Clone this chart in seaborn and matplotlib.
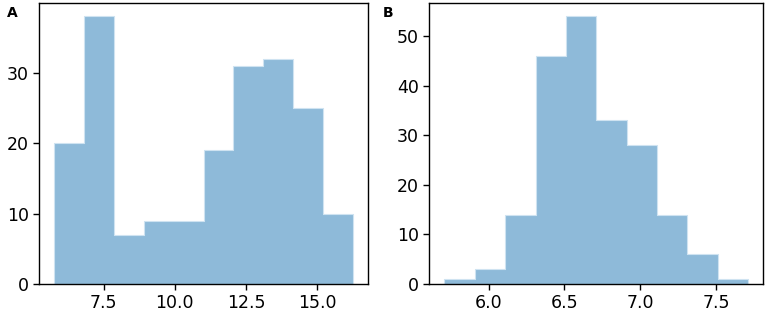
import numpy as np
import pandas as pd
import matplotlib
matplotlib.use("Agg")
import matplotlib.pyplot as plt
import seaborn as sns

# panel A: bin edges and counts
edges_a = [5.77, 6.82, 7.87, 8.92, 9.97, 11.02, 12.06, 13.11, 14.16, 15.21, 16.26]
counts_a = [20, 38, 7, 9, 9, 19, 31, 32, 25, 10]

# panel B
edges_b = [5.71, 5.91, 6.11, 6.31, 6.51, 6.71, 6.91, 7.11, 7.31, 7.51, 7.71]
counts_b = [1, 3, 14, 46, 54, 33, 28, 14, 6, 1]

sns.set_style("ticks", {"text.color": "black", "xtick.color": "black",
                        "ytick.color": "black", "axes.edgecolor": "black"})
plt.rcParams['font.family'] = ['DejaVu Sans']

W, H = 766, 315
fig = plt.figure(figsize=(W / 100, H / 100), dpi=100)
ax_a = fig.add_axes([39.3 / W, 31 / H, 328.7 / W, 281 / H])
ax_b = fig.add_axes([429.3 / W, 31 / H, 334 / W, 281 / H])

for ax, edges, counts in [(ax_a, edges_a, counts_a), (ax_b, edges_b, counts_b)]:
    e = np.array(edges)
    df = pd.DataFrame({"v": (e[:-1] + e[1:]) / 2, "w": counts})
    sns.histplot(data=df, x="v", weights="w", bins=list(edges), element="step", stat="count",
                 color="#1f77b4", alpha=0.5, linewidth=0.8, edgecolor="#cfe3f1", ax=ax)
    ax.set_ylabel("")
    ax.set_xlabel("")
    ax.tick_params(labelsize=12.5, length=4, width=1, direction="out", colors="black")
    for s in ax.spines.values():
        s.set_linewidth(1.0)
        s.set_color("black")
    ax.margins(x=0.05)

fig.text(7 / W, 1 - 6 / H, "A", fontsize=10, fontweight="bold", ha="left", va="top", color="black")
fig.text(383 / W, 1 - 6 / H, "B", fontsize=10, fontweight="bold", ha="left", va="top", color="black")

ax_a.set_xticks([7.5, 10.0, 12.5, 15.0])
ax_a.set_yticks([0, 10, 20, 30])
ax_b.set_xticks([6.0, 6.5, 7.0, 7.5])
ax_b.set_yticks([0, 10, 20, 30, 40, 50])

fig.savefig("out.png", dpi=100)
